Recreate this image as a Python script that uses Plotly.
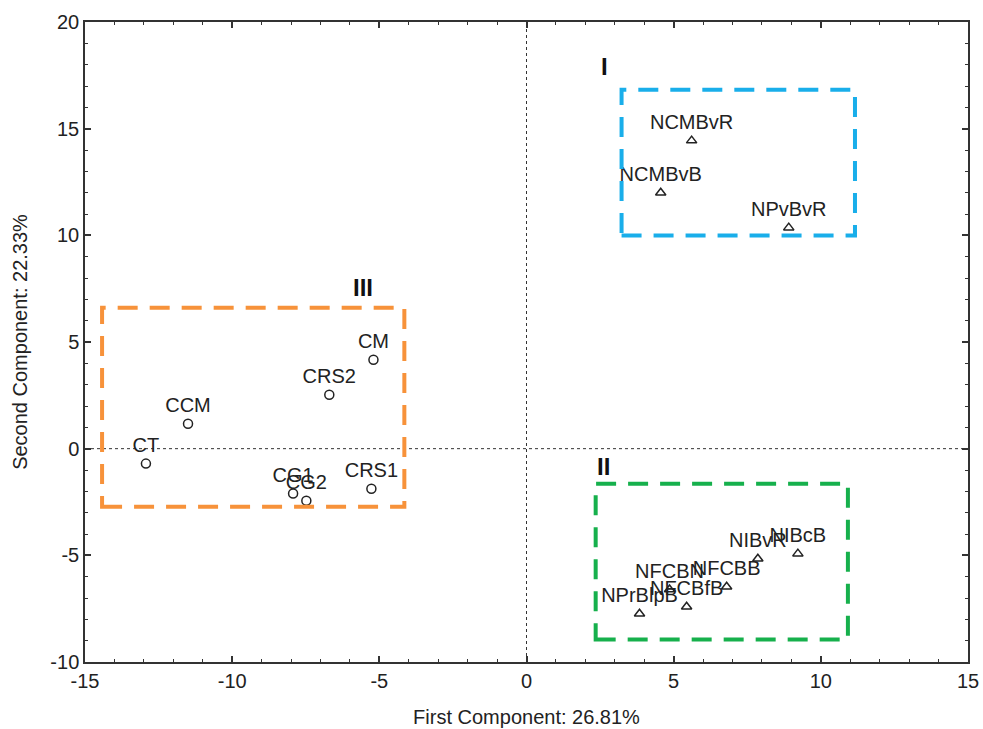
import plotly.graph_objects as go

# Group III (circles)
c_labels = ["CM", "CRS2", "CCM", "CT", "CG1", "CG2", "CRS1"]
c_x = [-5.2, -6.7, -11.5, -12.93, -7.93, -7.48, -5.27]
c_y = [4.17, 2.53, 1.17, -0.7, -2.1, -2.44, -1.88]

# Groups I and II (triangles)
t_labels = ["NCMBvR", "NCMBvB", "NPvBvR", "NIBvR", "NIBcB", "NFCBN", "NFCBB", "NFCBfB", "NPrBlpB"]
t_x = [5.61, 4.56, 8.91, 7.86, 9.22, 4.86, 6.8, 5.44, 3.84]
t_y = [14.44, 12.0, 10.36, -5.16, -4.92, -6.6, -6.47, -7.41, -7.74]

# Group boxes
box_names = ["I", "II", "III"]
box_x0 = [3.23, 2.35, -14.42]
box_x1 = [11.16, 10.92, -4.15]
box_y0 = [9.99, -8.95, -2.72]
box_y1 = [16.83, -1.64, 6.61]
box_colors = ["#19AEEA", "#16B04C", "#F7923A"]
lab_x = [2.65, 2.62, -5.54]
lab_y = [17.9, -0.85, 7.55]

x_ticks = [-15, -10, -5, 0, 5, 10, 15]
x_ticktext = ["-15", "-10", "-5", "0", "5", "10", "15"]
y_ticks = [-10, -5, 0, 5, 10, 15, 20]
y_ticktext = ["-10", "-5", "0", "5", "10", "15", "20"]

x_title = "First Component: 26.81%"
y_title = "Second Component: 22.33%"

FONT = "Liberation Sans, Arial, sans-serif"

fig = go.Figure()
fig.add_trace(go.Scatter(
    x=c_x, y=c_y, text=c_labels, mode="markers+text",
    textposition="top center",
    marker=dict(symbol="circle-open", size=9, color="#222", line=dict(width=1.5)),
    textfont=dict(size=20, color="#222", family=FONT),
    cliponaxis=False, showlegend=False,
))
fig.add_trace(go.Scatter(
    x=t_x, y=t_y, text=t_labels, mode="markers+text",
    textposition="top center",
    marker=dict(symbol="triangle-up-open", size=9, color="#222", line=dict(width=1.5)),
    textfont=dict(size=20, color="#222", family=FONT),
    cliponaxis=False, showlegend=False,
))

shapes = []
for x0, x1, y0, y1, col in zip(box_x0, box_x1, box_y0, box_y1, box_colors):
    shapes.append(dict(type="rect", xref="x", yref="y", x0=x0, x1=x1, y0=y0, y1=y1,
                       line=dict(color=col, width=4, dash="20px,12px")))
# zero lines
shapes.append(dict(type="line", xref="x", yref="paper", x0=0, x1=0, y0=0, y1=1,
                   line=dict(color="#333", width=1, dash="dot"), layer="below"))
shapes.append(dict(type="line", xref="paper", yref="y", x0=0, x1=1, y0=0, y1=0,
                   line=dict(color="#333", width=1, dash="dot"), layer="below"))

annotations = [dict(x=x, y=y, text="<b>%s</b>" % n, showarrow=False, xref="x", yref="y",
                    font=dict(size=24, color="#111", family=FONT))
               for n, x, y in zip(box_names, lab_x, lab_y)]

axis_common = dict(
    showgrid=False, zeroline=False, showline=True, linecolor="#333", linewidth=1.5,
    mirror="allticks", ticks="inside", ticklen=6, tickcolor="#333", tickwidth=1.5,
    tickfont=dict(size=20, color="#222", family=FONT), automargin=False,
    minor=dict(ticks="inside", ticklen=3, dtick=1, tickcolor="#333", tickwidth=1),
)

fig.update_layout(
    width=983, height=729,
    margin=dict(l=85, r=15, t=22, b=67),
    plot_bgcolor="white", paper_bgcolor="white",
    font=dict(family=FONT, color="#222"),
    shapes=shapes, annotations=annotations,
    xaxis=dict(range=[-15, 15], tickmode="array", tickvals=x_ticks, ticktext=x_ticktext,
               title=dict(text=x_title, font=dict(size=20, family=FONT), standoff=19),
               **axis_common),
    yaxis=dict(range=[-10, 20], tickmode="array", tickvals=y_ticks, ticktext=y_ticktext,
               title=dict(text=y_title, font=dict(size=20, family=FONT), standoff=17),
               **axis_common),
)

fig.write_html("out.html", config={"displayModeBar": False},
               post_script="document.body.style.margin='0';document.body.style.overflow='hidden';")
